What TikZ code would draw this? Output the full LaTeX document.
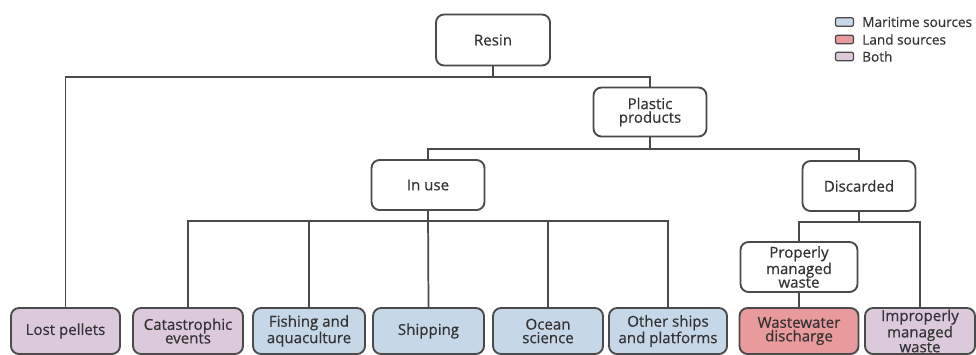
\documentclass[tikz,border=0pt]{standalone}
\usepackage{fontspec}
\setmainfont{Open Sans}[FakeBold=0.5,AutoFakeBold=0.5]
\definecolor{linec}{HTML}{4A4A4A}
\definecolor{txt}{HTML}{333333}
\definecolor{mari}{HTML}{C6D7E7}
\definecolor{land}{HTML}{E99A9C}
\definecolor{both}{HTML}{DCC9DC}
\begin{document}
\begin{tikzpicture}[x=0.75pt,y=-0.75pt,
  box/.style={draw=linec,line width=1.4pt,rounded corners=6pt,fill=white,align=center,
    inner sep=0pt,font=\fontsize{11.3}{10.2}\selectfont\bfseries\color{txt}},
  conn/.style={draw=linec,line width=1.3pt},
  leg/.style={draw=linec,line width=0.9pt,rounded corners=1.5pt,minimum width=13.5pt,minimum height=6.5pt,inner sep=0pt},
  legt/.style={anchor=west,inner sep=0pt,font=\fontsize{10.2}{10}\selectfont\bfseries\color{txt}}]
\useasboundingbox (0,0) rectangle (976,354);
% top levels
\node[box,minimum width=114*0.75pt,minimum height=51*0.75pt] (resin) at (493,40) {Resin};
\node[box,minimum width=113*0.75pt,minimum height=49*0.75pt] (plastic) at (650,112) {Plastic\\products};
\node[box,minimum width=113*0.75pt,minimum height=50*0.75pt] (inuse) at (428,185) {In use};
\node[box,minimum width=113*0.75pt,minimum height=50*0.75pt] (disc) at (859,186) {Discarded};
\node[box,minimum width=117*0.75pt,minimum height=50*0.75pt] (prop) at (799,267) {Properly\\managed\\waste};
% bottom
\node[box,fill=both,minimum width=109*0.75pt,minimum height=46*0.75pt] (lost) at (65.5,331) {Lost pellets};
\node[box,fill=both,minimum width=110*0.75pt,minimum height=46*0.75pt] (cat) at (188,331) {Catastrophic\\events};
\node[box,fill=mari,minimum width=112*0.75pt,minimum height=46*0.75pt] (fish) at (309,331) {Fishing and\\aquaculture};
\node[box,fill=mari,minimum width=111*0.75pt,minimum height=46*0.75pt] (ship) at (428.5,331) {Shipping};
\node[box,fill=mari,minimum width=110*0.75pt,minimum height=46*0.75pt] (ocean) at (548,331) {Ocean\\science};
\node[box,fill=mari,minimum width=118*0.75pt,minimum height=46*0.75pt] (other) at (668,331) {Other ships\\and platforms};
\node[box,fill=land,minimum width=119*0.75pt,minimum height=46*0.75pt] (waste) at (799,331) {Wastewater\\discharge};
\node[box,fill=both,minimum width=110*0.75pt,minimum height=46*0.75pt,font=\fontsize{11.3}{9.8}\selectfont\bfseries\color{txt}] (improp) at (920,331) {Improperly\\managed\\waste};
% bus coordinates
\coordinate (b1) at (493,77);
\coordinate (b2) at (650,149);
\coordinate (b3) at (428,221);
\coordinate (b4) at (859,222);
% connectors
\draw[conn] (resin.south) -- (b1);
\draw[conn] (lost.north) |- (b1) -| (plastic.north);
\draw[conn] (plastic.south) -- (b2);
\draw[conn] (inuse.north) |- (b2) -| (disc.north);
\draw[conn] (inuse.south) -- (ship.north);
\draw[conn] (cat.north) |- (b3) -| (other.north);
\draw[conn] (fish.north) -- (fish.north |- b3);
\draw[conn] (ocean.north) -- (ocean.north |- b3);
\draw[conn] (disc.south) -- (b4);
\draw[conn] (prop.north) |- (b4) -| (improp.north);
\draw[conn] (prop.south) -- (waste.north);
% legend
\node[leg,fill=mari] (l1) at (844.5,22) {};
\node[leg,fill=land] (l2) at (844.5,39.5) {};
\node[leg,fill=both] (l3) at (844.5,56.5) {};
\node[legt] (t1) at (862,22) {Maritime sources};
\node[legt] (t2) at (862,39.5) {Land sources};
\node[legt] (t3) at (862,56.5) {Both};
\end{tikzpicture}
\end{document}
